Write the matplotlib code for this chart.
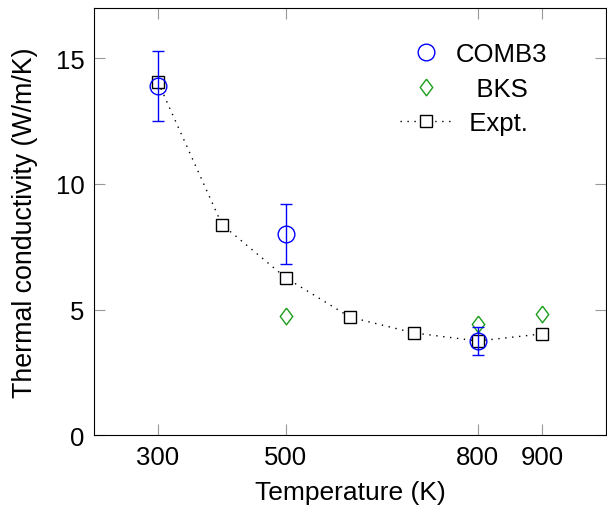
import numpy as np
import matplotlib.pyplot as plt
from matplotlib.lines import Line2D

plt.rcParams['font.family'] = ['Liberation Sans', 'DejaVu Sans']

# data
t_expt = [300, 400, 500, 600, 700, 800, 900]
k_expt = [14.05, 8.38, 6.26, 4.7, 4.07, 3.75, 4.03]

t_comb3 = [300, 500, 800]
k_comb3 = [13.9, 8.0, 3.75]
err_comb3 = [1.4, 1.2, 0.57]

t_bks = [500, 800, 900]
k_bks = [4.75, 4.43, 4.83]

diamond = [(0, 1), (0.75, 0), (0, -1), (-0.75, 0), (0, 1)]
dots = (0, (1, 4))

fig = plt.figure(figsize=(6.07, 5.06), dpi=100)
ax = fig.add_axes([0.155, 0.138, 0.843, 0.844])

ax.plot(t_expt, k_expt, linestyle=dots, color='black', linewidth=1.0,
        marker='s', markersize=8, markerfacecolor='white',
        markeredgecolor='black', markeredgewidth=1.0, zorder=3)
ax.errorbar(t_comb3, k_comb3, yerr=err_comb3, fmt='o', markersize=12,
            markerfacecolor='none', markeredgecolor='blue', ecolor='blue',
            elinewidth=1.0, capsize=4.5, capthick=1.0, markeredgewidth=1.0,
            zorder=4)
ax.plot(t_bks, k_bks, linestyle='none', marker=diamond, markersize=12,
        markerfacecolor='none', markeredgecolor='#1a9e1a', markeredgewidth=1.0,
        zorder=2)

ax.set_xlim(200, 1000)
ax.set_ylim(0, 17)
ax.set_xticks([300, 500, 800, 900])
ax.set_yticks([0, 5, 10, 15])
ax.tick_params(direction='in', top=True, right=True, length=8,
               color='#999999', labelsize=18.5, pad=7)
ax.set_xlabel('Temperature (K)', fontsize=19, labelpad=8)
ax.set_ylabel('Thermal conductivity (W/m/K)', fontsize=19.3, labelpad=13)

handles = [
    Line2D([], [], linestyle='none', marker='o', markersize=12,
           markerfacecolor='none', markeredgecolor='blue'),
    Line2D([], [], linestyle='none', marker=diamond, markersize=12,
           markerfacecolor='none', markeredgecolor='#1a9e1a'),
    Line2D([], [], linestyle=dots, color='black', linewidth=1.0, marker='s',
           markersize=8, markerfacecolor='white', markeredgecolor='black'),
]
# legend text is centred in the original, pad the shorter ones
ax.legend(handles, ['COMB3', '   BKS', '  Expt.'], loc='upper right',
          frameon=False, fontsize=18.5, bbox_to_anchor=(0.93, 0.975),
          handlelength=2.0, handletextpad=0.15, labelspacing=0.42)

fig.savefig('out.png', dpi=100)
